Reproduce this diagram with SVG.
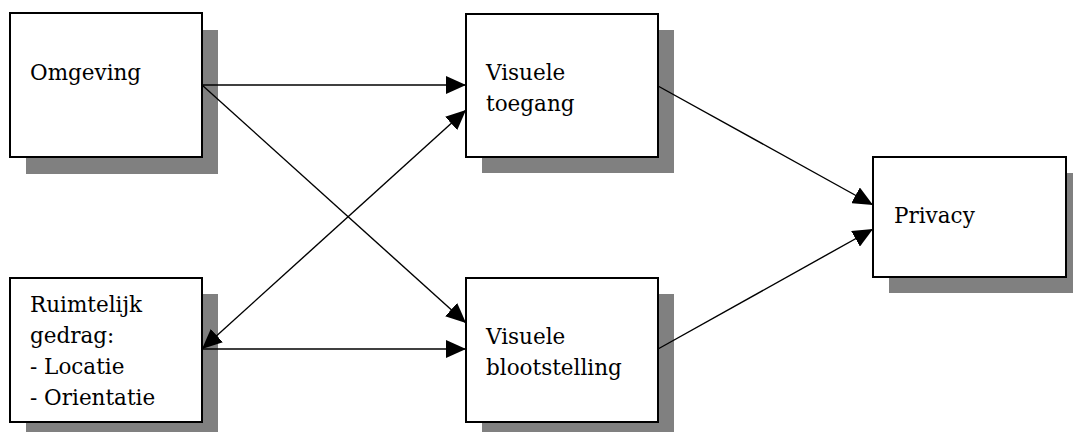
<svg xmlns="http://www.w3.org/2000/svg" width="1073" height="432" viewBox="0 0 1073 432">
<defs>
<style>
.shadow{fill:#808080;stroke:none}
.box{fill:#fff;stroke:#000;stroke-width:2}
.edge{stroke:#000;stroke-width:1.4;fill:none}
</style>
<marker id="ah" markerUnits="userSpaceOnUse" markerWidth="20" markerHeight="18" refX="20" refY="9" orient="auto-start-reverse" viewBox="0 0 20 18">
<path d="M0,0 L20,9 L0,18 z" fill="#000"/>
</marker>
</defs>
<rect width="1073" height="432" fill="#fff"/>
<g font-family="DejaVu Serif, serif" font-size="21.5" fill="#000">
<g id="omgeving">
<rect class="shadow" x="26" y="30" width="192" height="144"/>
<rect class="box" x="10" y="13" width="192" height="144"/>
<text x="30" y="80">Omgeving</text>
</g>
<g id="ruimtelijk">
<rect class="shadow" x="26" y="294" width="192" height="144"/>
<rect class="box" x="10" y="278" width="192" height="144"/>
<text x="30" y="312">Ruimtelijk</text>
<text x="30" y="343">gedrag:</text>
<text x="30" y="374">- Locatie</text>
<text x="30" y="405">- Orientatie</text>
</g>
<g id="toegang">
<rect class="shadow" x="482" y="30" width="192" height="143"/>
<rect class="box" x="466" y="14" width="192" height="143"/>
<text x="486" y="80">Visuele</text>
<text x="486" y="111">toegang</text>
</g>
<g id="blootstelling">
<rect class="shadow" x="482" y="294" width="192" height="144"/>
<rect class="box" x="466" y="278" width="192" height="144"/>
<text x="486" y="344">Visuele</text>
<text x="486" y="375">blootstelling</text>
</g>
<g id="privacy">
<rect class="shadow" x="889" y="173" width="193" height="120"/>
<rect class="box" x="873" y="157" width="193" height="120"/>
<text x="894" y="223">Privacy</text>
</g>
</g>
<g id="connectors">
<line class="edge" x1="202" y1="85" x2="466" y2="85" marker-end="url(#ah)"/>
<line class="edge" x1="202" y1="85" x2="466" y2="323" marker-end="url(#ah)"/>
<line class="edge" x1="202" y1="349" x2="466" y2="349" marker-end="url(#ah)"/>
<line class="edge" x1="202" y1="349" x2="466" y2="110" marker-start="url(#ah)" marker-end="url(#ah)"/>
<line class="edge" x1="658" y1="86" x2="873" y2="205" marker-end="url(#ah)"/>
<line class="edge" x1="658" y1="349" x2="873" y2="229" marker-end="url(#ah)"/>
</g>
</svg>
